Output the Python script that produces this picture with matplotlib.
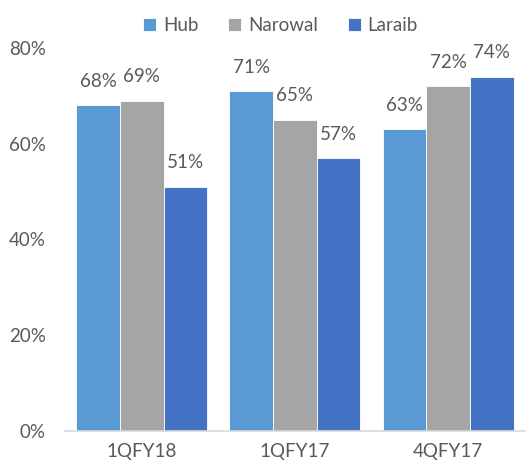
import numpy as np
import matplotlib.pyplot as plt

categories = ["1QFY18", "1QFY17", "4QFY17"]
series_names = ["Hub", "Narowal", "Laraib"]
hub = [68, 71, 63]
narowal = [69, 65, 72]
laraib = [51, 57, 74]
colors = ["#5B9BD5", "#A5A5A5", "#4472C4"]

plt.rcParams["font.family"] = ["Lato", "DejaVu Sans"]
text_color = "#595959"

fig = plt.figure(figsize=(5.29, 4.70), dpi=100)
ax = fig.add_axes([0.123, 0.083, 0.869, 0.815])

x = np.arange(len(categories))
width = 0.285
for i, (name, vals) in enumerate(zip(series_names, [hub, narowal, laraib])):
    pos = x + (i - 1) * width
    ax.bar(pos, vals, width, color=colors[i], label=name,
           edgecolor="white", linewidth=0.6)
    for p, v in zip(pos, vals):
        ax.text(p, v + 3.2, f"{v}%", ha="center", va="bottom",
                fontsize=13.5, color=text_color, clip_on=False)

ax.set_xlim(-0.5, 2.5)
ax.set_ylim(0, 80)
ax.set_yticks([0, 20, 40, 60, 80])
ax.set_yticklabels([f"{t}%" for t in [0, 20, 40, 60, 80]])
ax.set_xticks(x)
ax.set_xticklabels(categories)
ax.tick_params(axis="both", length=0, labelsize=13.5, labelcolor=text_color)
ax.tick_params(axis="y", pad=14)
ax.tick_params(axis="x", pad=9)

for side in ["top", "right", "left"]:
    ax.spines[side].set_visible(False)
ax.spines["bottom"].set_color("#D9D9D9")
ax.spines["bottom"].set_linewidth(1.2)

leg = fig.legend(loc="upper center", bbox_to_anchor=(0.53, 1.0), ncol=3,
                 frameon=False, fontsize=13.5, handlelength=0.7,
                 handleheight=0.7, handletextpad=0.35, columnspacing=1.6)
for t in leg.get_texts():
    t.set_color(text_color)

fig.savefig("out.png", dpi=100)
